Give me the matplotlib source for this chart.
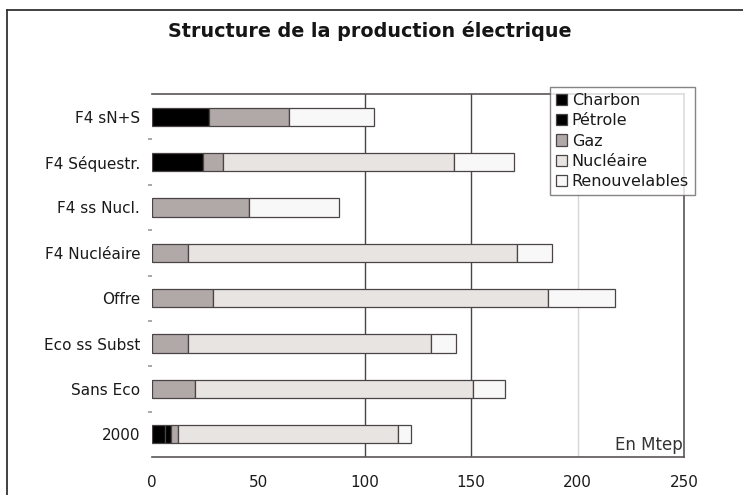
import matplotlib
matplotlib.use("Agg")
import matplotlib.pyplot as plt
from matplotlib.lines import Line2D
import numpy as np

plt.rcParams['font.family'] = ['DejaVu Sans']

# Scenarios, listed from top to bottom
categories = ["F4 sN+S", "F4 Séquestr.", "F4 ss Nucl.", "F4 Nucléaire",
              "Offre", "Eco ss Subst", "Sans Eco", "2000"]

# Electricity production by source (Mtep)
charbon = [27.0, 24.0, 0.0, 0.0, 0.0, 0.0, 0.0, 6.0]
petrole = [0.0, 0.0, 0.0, 0.0, 0.0, 0.0, 0.0, 3.0]
gaz = [37.5, 9.5, 45.5, 17.0, 28.5, 17.0, 20.0, 3.0]
nucleaire = [0.0, 108.5, 0.0, 154.5, 157.5, 114.0, 131.0, 103.5]
renouvelables = [40.0, 28.0, 42.5, 16.5, 31.5, 12.0, 15.0, 6.0]

series_names = ["Charbon", "Pétrole", "Gaz", "Nucléaire", "Renouvelables"]
series_values = [charbon, petrole, gaz, nucleaire, renouvelables]
series_colors = ["#000000", "#000000", "#b1a9a7", "#e8e4e2", "#f8f8f8"]

x_ticks = [0, 50, 100, 150, 200, 250]

fig = plt.figure(figsize=(7.43, 4.95), dpi=100)
ax = fig.add_axes([152 / 743, 1 - 457 / 495, (684 - 152) / 743, (457 - 94) / 495])

y = np.arange(len(categories))[::-1]
left = np.zeros(len(categories))
containers = []
for name, vals, col in zip(series_names, series_values, series_colors):
    vals = np.array(vals)
    b = ax.barh(y, vals, left=left, height=0.4, color=col,
                edgecolor="#4a4446", linewidth=0.9, label=name, zorder=3)
    containers.append((b, vals))
    left = left + vals

# vertical reference lines
for xv, c in [(100, "#4a4446"), (150, "#4a4446"), (200, "#d8d6d6")]:
    ax.axvline(xv, color=c, linewidth=1.0, zorder=1)

ax.set_xlim(0, 250)
ax.set_ylim(-0.5, len(categories) - 0.5)
ax.set_xticks(x_ticks)
ax.set_xticklabels([str(t) for t in x_ticks], fontsize=11, color="#1a1a1a")
ax.tick_params(axis="x", length=0, pad=13)

ax.set_yticks(y)
ax.set_yticklabels(categories, fontsize=11, color="#1a1a1a")
ax.tick_params(axis="y", which="major", length=0, pad=8.5)
ax.set_yticks(np.arange(len(categories) - 1) + 0.5, minor=True)
ax.tick_params(axis="y", which="minor", length=3, width=1.2, color="#999999")

for side in ["top", "bottom", "right"]:
    ax.spines[side].set_color("#5a5456")
    ax.spines[side].set_linewidth(1.2)
ax.spines["left"].set_visible(False)

ax.text(249.5, -0.44, "En Mtep", ha="right", va="bottom", fontsize=12,
        color="#333333")

leg = fig.legend(loc="upper left", bbox_to_anchor=(550 / 743, 1 - 87 / 495),
                 frameon=True, fancybox=False, fontsize=11.5, handlelength=0.7,
                 handleheight=0.7, handletextpad=0.3, labelspacing=0.34,
                 borderpad=0.36, borderaxespad=0.0)
leg.get_frame().set_edgecolor("#6a6466")
leg.get_frame().set_linewidth(1.0)
for t in leg.get_texts():
    t.set_color("#1a1a1a")

# empty segments get no outline (done after the legend keeps its outlined keys)
for b, vals in containers:
    for patch, v in zip(b.patches, vals):
        if v == 0:
            patch.set_linewidth(0)

fig.text(370 / 743, 1 - 31 / 495, "Structure de la production électrique",
         ha="center", va="center", fontsize=13.8, fontweight="bold",
         color="#151515")

# frame lines on the left and top of the figure
fig.add_artist(Line2D([7 / 743, 7 / 743], [0, 1 - 10 / 495],
                      transform=fig.transFigure, color="#333333", linewidth=1.3))
fig.add_artist(Line2D([7 / 743, 1], [1 - 10 / 495, 1 - 10 / 495],
                      transform=fig.transFigure, color="#333333", linewidth=1.3))

fig.savefig("out.png", dpi=100)
